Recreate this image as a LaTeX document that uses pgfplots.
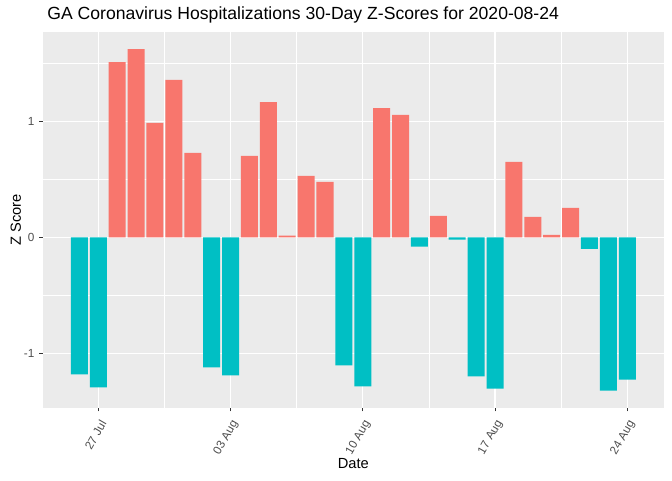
\documentclass[border=0pt]{standalone}
\usepackage{pgfplots}
\pgfplotsset{compat=1.18}
\usepackage{fontspec}
\setmainfont{Liberation Sans}
\definecolor{ggred}{HTML}{F8766D}
\definecolor{ggteal}{HTML}{00BFC4}
\definecolor{ggpanel}{HTML}{EBEBEB}
\definecolor{gg30}{HTML}{4D4D4D}
\definecolor{gg20}{HTML}{333333}

\begin{document}
\begin{tikzpicture}
\useasboundingbox (0,0) rectangle (504pt,360pt);
\begin{axis}[
	at={(32pt,54.2pt)}, anchor=south west,
	scale only axis, width=466pt, height=281.8pt,
	xmin=-1.945, xmax=30.945, ymin=-1.47, ymax=1.772,
	axis background/.style={fill=ggpanel},
	axis line style={draw=none},
	tick pos=left, tick align=outside,
	major tick length=2.75pt,
	minor tick length=0pt,
	tick style={gg20, line width=0.53pt},
	xtick={1,8,15,22,29},
	xticklabels={27 Jul,03 Aug,10 Aug,17 Aug,24 Aug},
	ytick={-1,0,1},
	minor xtick={4.5,11.5,18.5,25.5},
	minor ytick={-0.5,0.5,1.5},
	grid=both,
	major grid style={white, line width=1.07pt},
	minor grid style={white, line width=0.53pt},
	ticklabel style={font=\fontsize{8.8}{10}\selectfont, text=gg30},
	xticklabel style={xshift=5.5pt, yshift=-4.5pt, rotate=60, anchor=east},
	/pgf/number format/assume math mode=true,
]
	% days counted from 26 Jul
	\addplot[ybar, bar width=0.9, bar shift=0pt, fill=ggred, draw=none] coordinates {
		(2,1.513) (3,1.625) (4,0.987) (5,1.358) (6,0.728)
		(9,0.703) (10,1.168) (11,0.016) (12,0.530) (13,0.478)
		(16,1.116) (17,1.056) (19,0.185)
		(23,0.651) (24,0.177) (25,0.022) (26,0.254)
	};
	\addplot[ybar, bar width=0.9, bar shift=0pt, fill=ggteal, draw=none] coordinates {
		(0,-1.183) (1,-1.295) (7,-1.122) (8,-1.191)
		(14,-1.105) (15,-1.286) (18,-0.079) (20,-0.019)
		(21,-1.200) (22,-1.306) (27,-0.099) (28,-1.323) (29,-1.228)
	};
\end{axis}
\node[anchor=base west, font=\fontsize{13.2}{15}\selectfont] at (32pt,345pt) {GA Coronavirus Hospitalizations 30-Day Z-Scores for 2020-08-24};
\node[font=\fontsize{11}{13}\selectfont] at (265pt,12pt) {Date};
\node[rotate=90, font=\fontsize{11}{13}\selectfont] at (11.8pt,195pt) {Z Score};
\end{tikzpicture}
\end{document}
